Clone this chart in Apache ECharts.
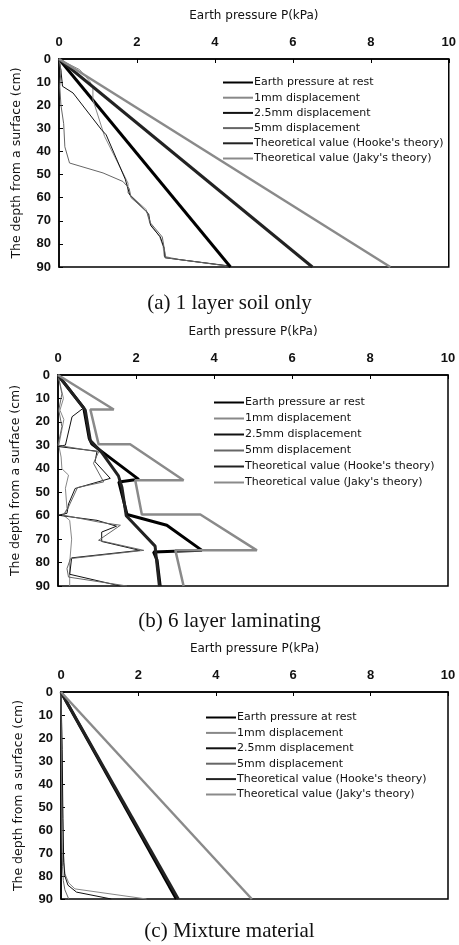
<!DOCTYPE html>
<html><head><meta charset="utf-8">
<script src="https://cdn.jsdelivr.net/npm/echarts@6/dist/echarts.min.js"></script>
<style>html,body{margin:0;padding:0;background:#fff}#c{width:459px;height:945px}</style>
</head><body><div id="c"></div>
<script>
// ---- tick labels / titles ----
var xTicks = [0, 2, 4, 6, 8, 10];
var yTicks = [0, 10, 20, 30, 40, 50, 60, 70, 80, 90];
var xTitle = 'Earth pressure P(kPa)';
var yTitle = 'The depth from a surface (cm)';
var captions = ['(a) 1 layer soil only', '(b) 6 layer laminating', '(c) Mixture material'];
var names1 = ['Earth pressure at rest', '1mm displacement', '2.5mm displacement', '5mm displacement', "Theoretical value (Hooke's theory)", "Theoretical value (Jaky's theory)"];
var names2 = ['Earth pressure ar rest', '1mm displacement', '2.5mm displacement', '5mm displacement', "Theoretical value (Hooke's theory)", "Theoretical value (Jaky's theory)"];

// ---- panel (a): [pressure kPa, depth cm] ----
var p1Rest = [[0,0],[4.4,90]];
var p1Mm1 = [[0,0],[0.53,4.6],[0.79,9.7],[0.87,12.6],[0.87,17.6],[1.17,33.5],[1.77,53.7],[1.77,58],[2.24,65.2],[2.33,71],[2.58,76.8],[2.67,81],[2.7,85.4],[3.09,86.8],[4.3,89.5]];
var p1Mm25 = [[0,0],[0.05,5],[0.09,11.8],[0.36,14.7],[1.09,30.6],[1.21,32.8],[1.7,52],[1.75,55],[1.82,59],[2.3,67],[2.35,72],[2.6,77],[2.7,82],[2.72,86],[4.35,89.5]];
var p1Mm5 = [[0,0],[0.05,5],[0.02,12],[0.05,20],[0.12,28],[0.15,38],[0.27,45],[1.13,49.3],[1.64,53],[1.8,56],[1.85,60],[2.25,66],[2.35,71],[2.65,77],[2.72,84],[2.74,86],[4.3,89.5]];
var p1Hooke = [[0,0],[6.5,90]];
var p1Jaky = [[0,0],[8.5,90]];

// ---- panel (b) ----
var p2Rest = [[0,0],[0.66,14],[0.8,27],[0.87,29.5],[2.07,44.5],[1.56,45.6],[1.77,59.5],[2.79,64.1],[3.69,74.8],[2.45,75.5],[2.54,79],[2.62,90]];
var p2Mm1 = [[0,0],[0.14,10],[0.05,15],[0.15,19],[0.08,25],[0.02,30],[0.08,35],[0.1,40],[0.27,42.7],[0.19,48.3],[0.23,57],[0.14,59.8],[0.3,62],[0.35,70],[0.3,80],[0.3,90]];
var p2Mm25 = [[0,0],[0.66,14],[0.36,17.8],[0.19,29.9],[0,30.5],[1.0,32.5],[0.95,37],[1.34,44.1],[0.44,48.4],[0.27,55],[0.23,59],[0,59.8],[1.0,62],[1.5,64.5],[1.12,67],[1.12,71],[2.1,74.8],[0.35,78],[0.3,85],[1.6,90]];
var p2Mm5 = [[0,0],[0.1,8],[0.02,15],[0.1,22],[0,30],[1.04,32.8],[0.91,37.7],[1.17,45.6],[0.5,48],[0.25,57],[0.14,59.8],[1.04,62.7],[1.6,64.1],[1.04,70.5],[2.2,74.8],[0.32,78.3],[0.23,82.6],[0.27,86.2],[1.77,90]];
var p2Hooke = [[0,0],[0.7,15],[0.83,28],[1.12,33],[1.55,43],[1.64,48],[1.75,60],[2.49,73],[2.52,78],[2.6,90]];
var p2Jaky = [[0,0],[1.43,14.7],[0.83,14.7],[1.04,29.5],[1.85,29.5],[3.22,44.9],[1.98,44.9],[2.15,59.5],[3.65,59.5],[5.1,74.8],[3.01,74.8],[3.22,90]];

// ---- panel (c) ----
var p3Rest = [[0,0],[2.98,90]];
var p3Mm1 = [[0,0],[0.02,20],[0.04,50],[0.06,70],[0.1,79],[0.2,83],[0.36,85.6],[2.21,90]];
var p3Mm25 = [[0,0],[0.03,25],[0.05,55],[0.07,74],[0.1,80],[0.18,84],[0.4,87],[1.3,90]];
var p3Mm5 = [[0,0],[0.01,30],[0.02,60],[0.04,76],[0.06,82],[0.1,86],[0.2,90]];
var p3Hooke = [[0,0],[3.03,90]];
var p3Jaky = [[0,0],[4.93,90]];

var panelData = [
  [p1Rest, p1Mm1, p1Mm25, p1Mm5, p1Hooke, p1Jaky],
  [p2Rest, p2Mm1, p2Mm25, p2Mm5, p2Hooke, p2Jaky],
  [p3Rest, p3Mm1, p3Mm25, p3Mm5, p3Hooke, p3Jaky]
];
var panelNames = [names1, names2, names1];

var styles = [
  {color:'#000', width:3},
  {color:'#888', width:1},
  {color:'#111', width:1},
  {color:'#666', width:1},
  {color:'#222', width:3},
  {color:'#8a8a8a', width:2.5}
];

var grids = [
  {left:59, top:59, width:390, height:208},
  {left:58, top:375, width:390, height:211},
  {left:61, top:692, width:387, height:207}
];
var legendPos = [
  {left:222, top:77, gap:4.2},
  {left:213, top:397, gap:5},
  {left:205, top:712, gap:4.4}
];
var captionTop = [288, 606, 916];

var option = {
  animation:false,
  grid: grids.map(function(g){return Object.assign({show:true, borderColor:'#000', borderWidth:1.5, backgroundColor:'transparent'}, g);}),
  title: captions.map(function(t,i){return {text:t, left:'center', top:captionTop[i], textStyle:{fontFamily:'Liberation Serif', fontSize:21, fontWeight:'normal', color:'#111'}};}),
  xAxis: grids.map(function(g,i){return {
    type:'value', gridIndex:i, position:'top', min:xTicks[0], max:xTicks[xTicks.length-1], interval:2,
    name:xTitle, nameLocation:'middle', nameGap:37,
    nameTextStyle:{fontFamily:'DejaVu Sans', fontSize:12, color:'#111'},
    axisLine:{lineStyle:{color:'#000', width:1.5}},
    axisTick:{inside:true, length:4, lineStyle:{color:'#000'}},
    axisLabel:{margin:10, fontFamily:'Liberation Sans', fontSize:13, fontWeight:'bold', color:'#111'},
    splitLine:{show:false}
  };}),
  yAxis: grids.map(function(g,i){return {
    type:'value', gridIndex:i, inverse:true, min:yTicks[0], max:yTicks[yTicks.length-1], interval:10,
    name:yTitle, nameLocation:'middle', nameGap:36, nameRotate:90,
    nameTextStyle:{fontFamily:'DejaVu Sans', fontSize:12.5, color:'#111'},
    axisLine:{lineStyle:{color:'#000', width:1.5}},
    axisTick:{inside:true, length:4, lineStyle:{color:'#000'}},
    axisLabel:{margin:8, fontFamily:'Liberation Sans', fontSize:13, fontWeight:'bold', color:'#111'},
    splitLine:{show:false}
  };}),
  legend: legendPos.map(function(p,i){return {
    data:panelNames[i], orient:'vertical', left:p.left, top:p.top, itemGap:p.gap,
    itemWidth:30, itemHeight:12, padding:0, selectedMode:false,
    itemStyle:{opacity:0},
    textStyle:{fontFamily:'DejaVu Sans', fontSize:11, color:'#111', padding:[0,0,0,-4]}
  };}),
  series: []
};
panelData.forEach(function(arr,pi){
  arr.forEach(function(d,si){
    option.series.push({
      type:'line', name:panelNames[pi][si], xAxisIndex:pi, yAxisIndex:pi,
      data:d, symbol:'none', showSymbol:false,
      lineStyle:{color:styles[si].color, width:styles[si].width},
      itemStyle:{color:styles[si].color}
    });
  });
});
var chart = echarts.init(document.getElementById('c'), null, {renderer:'canvas'});
chart.setOption(option);
</script></body></html>
